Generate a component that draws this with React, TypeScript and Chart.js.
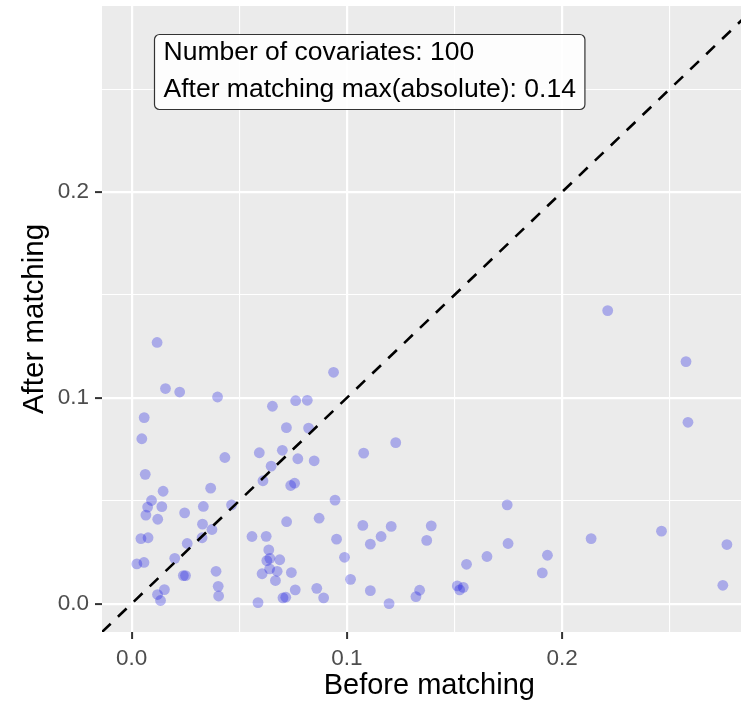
import React, { useEffect, useRef } from "react";
import { Chart, registerables } from "chart.js";

Chart.register(...registerables);

// ---- data ----
const beforeMatching: number[] = [
  0.0118, 0.0157, 0.0223, 0.0399, 0.0938, 0.0654, 0.0762, 0.0816, 0.0058, 0.0047,
  0.0719, 0.0822, 0.0433, 0.0593, 0.0700, 0.0772, 0.0848, 0.0648, 0.0063, 0.0610,
  0.0739, 0.0757, 0.0367, 0.0146, 0.0092, 0.0074, 0.0140, 0.0333, 0.0464, 0.0945,
  0.0066, 0.0246, 0.0121, 0.0871, 0.0720, 0.0329, 0.0373, 0.0043, 0.0076, 0.0327,
  0.0559, 0.0625, 0.0952, 0.0258, 0.0637, 0.0024, 0.0057, 0.0200, 0.0628, 0.0642,
  0.0688, 0.0989, 0.0240, 0.0250, 0.0392, 0.0606, 0.0641, 0.0676, 0.0742, 0.0668,
  0.1017, 0.0152, 0.0120, 0.0134, 0.0402, 0.0404, 0.0587, 0.0703, 0.0716, 0.0760,
  0.0860, 0.0892, 0.1227, 0.1078, 0.1745, 0.1074, 0.1206, 0.1392, 0.1159, 0.1109,
  0.1371, 0.1749, 0.1651, 0.1556, 0.1932, 0.1908, 0.1109, 0.1196, 0.1338, 0.1321,
  0.1513, 0.1541, 0.1524, 0.2212, 0.2576, 0.2585, 0.2462, 0.2135, 0.2766, 0.2747,
];
const afterMatching: number[] = [
  0.1269, 0.1045, 0.1028, 0.1004, 0.1124, 0.0959, 0.0986, 0.0988, 0.0904, 0.0801,
  0.0855, 0.0853, 0.0710, 0.0733, 0.0745, 0.0704, 0.0694, 0.0668, 0.0628, 0.0597,
  0.0574, 0.0585, 0.0561, 0.0546, 0.0501, 0.0469, 0.0471, 0.0472, 0.0480, 0.0503,
  0.0430, 0.0441, 0.0410, 0.0415, 0.0398, 0.0386, 0.0360, 0.0316, 0.0320, 0.0320,
  0.0326, 0.0327, 0.0313, 0.0292, 0.0261, 0.0193, 0.0200, 0.0220, 0.0209, 0.0220,
  0.0213, 0.0225, 0.0136, 0.0136, 0.0157, 0.0145, 0.0169, 0.0157, 0.0151, 0.0112,
  0.0118, 0.0068, 0.0044, 0.0015, 0.0084, 0.0037, 0.0005, 0.0028, 0.0031, 0.0067,
  0.0074, 0.0028, 0.0782, 0.0731, 0.0480, 0.0380, 0.0375, 0.0378, 0.0326, 0.0289,
  0.0307, 0.0292, 0.0229, 0.0191, 0.0235, 0.0149, 0.0063, 0.0000, 0.0065, 0.0034,
  0.0086, 0.0079, 0.0067, 0.1424, 0.1176, 0.0881, 0.0352, 0.0316, 0.0287, 0.0089,
];

const axisMin = -0.0138;
const axisMax = 0.2904;
const gridValues: number[] = [0, 0.05, 0.1, 0.15, 0.2, 0.25];
const majorValues: number[] = [0, 0.1, 0.2];
const majorLabels: string[] = ["0.0", "0.1", "0.2"];
const xTitle = "Before matching";
const yTitle = "After matching";
const annotationLines: string[] = [
  "Number of covariates: 100",
  "After matching max(absolute): 0.14",
];
const annotationX = 0.0103;
const annotationY = 0.2766;

const FONT = '"Liberation Sans", Arial, Helvetica, sans-serif';

const panelPlugin = {
  id: "panelPlugin",
  beforeDraw(chart: any) {
    const { ctx, chartArea: a } = chart;
    ctx.save();
    ctx.fillStyle = "#EBEBEB";
    ctx.fillRect(a.left, a.top, a.right - a.left, a.bottom - a.top);
    ctx.restore();
  },
  afterDatasetsDraw(chart: any) {
    const { ctx, chartArea: a } = chart;
    const xs = chart.scales.x;
    const ys = chart.scales.y;
    // identity dashed line
    ctx.save();
    ctx.beginPath();
    ctx.rect(a.left, a.top, a.right - a.left, a.bottom - a.top);
    ctx.clip();
    ctx.strokeStyle = "#000000";
    ctx.lineWidth = 2.6;
    ctx.setLineDash([12, 10]);
    ctx.beginPath();
    ctx.moveTo(xs.getPixelForValue(axisMin), ys.getPixelForValue(axisMin));
    ctx.lineTo(xs.getPixelForValue(axisMax), ys.getPixelForValue(axisMax));
    ctx.stroke();
    ctx.restore();

    // annotation label
    ctx.save();
    ctx.font = `26.5px ${FONT}`;
    const w = Math.max(...annotationLines.map((l) => ctx.measureText(l).width));
    const padX = 9;
    const left = Math.round(xs.getPixelForValue(annotationX)) + 0.5;
    const top = Math.round(ys.getPixelForValue(annotationY)) + 0.5;
    const width = w + padX * 2;
    const height = 75;
    ctx.beginPath();
    ctx.roundRect(left, top, width, height, 5);
    ctx.fillStyle = "rgba(255,255,255,0.88)";
    ctx.fill();
    ctx.strokeStyle = "#333333";
    ctx.lineWidth = 1.2;
    ctx.stroke();
    ctx.fillStyle = "#000000";
    ctx.textBaseline = "alphabetic";
    ctx.textAlign = "left";
    ctx.fillText(annotationLines[0], left + padX, top + 25);
    ctx.fillText(annotationLines[1], left + padX, top + 62);
    ctx.restore();
  },
};

function axisConfig(isX: boolean) {
  return {
    type: "linear" as const,
    position: isX ? "bottom" : "left",
    min: axisMin,
    max: axisMax,
    afterBuildTicks: (s: any) => {
      s.ticks = gridValues.map((v) => ({ value: v }));
    },
    afterFit: (s: any) => {
      if (isX) s.height = 69;
      else s.width = 102;
      s.paddingTop = 0;
      s.paddingBottom = 0;
      s.paddingLeft = 0;
      s.paddingRight = 0;
    },
    border: { display: false },
    grid: {
      color: "#FFFFFF",
      lineWidth: (c: any) => (c.tick && majorValues.includes(c.tick.value) ? 2.2 : 1.1),
      drawTicks: true,
      tickLength: 7,
      tickWidth: 2,
      tickColor: (c: any) =>
        c.tick && majorValues.includes(c.tick.value) ? "#333333" : "rgba(0,0,0,0)",
    },
    ticks: {
      autoSkip: false,
      maxRotation: 0,
      minRotation: 0,
      color: "#4D4D4D",
      font: { family: FONT, size: 22.5 },
      padding: 6,
      callback: (v: any) => {
        const i = majorValues.indexOf(v);
        return i >= 0 ? majorLabels[i] : "";
      },
    },
    title: {
      display: true,
      text: isX ? xTitle : yTitle,
      color: "#000000",
      font: isX
        ? { family: FONT, size: 29, lineHeight: 1.05 }
        : { family: FONT, size: 29.5 },
      padding: isX ? { top: 0, bottom: 0 } : { top: 17, bottom: 0 },
    },
  };
}

export default function App() {
  const ref = useRef<HTMLCanvasElement | null>(null);
  useEffect(() => {
    document.body.style.margin = "0";
    const canvas = ref.current;
    if (!canvas) return;
    const chart = new Chart(canvas, {
      type: "scatter",
      data: {
        datasets: [
          {
            data: beforeMatching.map((x, i) => ({ x, y: afterMatching[i] })),
            pointRadius: 5.4,
            pointHoverRadius: 5.4,
            pointBorderWidth: 0,
            pointBackgroundColor: "rgba(20,20,225,0.3)",
            borderColor: "rgba(0,0,0,0)",
          },
        ],
      },
      options: {
        responsive: false,
        maintainAspectRatio: false,
        animation: false,
        devicePixelRatio: 1,
        events: [],
        layout: { padding: { left: 0, right: 0, top: 6, bottom: 0 } },
        plugins: { legend: { display: false }, tooltip: { enabled: false } },
        scales: { x: axisConfig(true) as any, y: axisConfig(false) as any },
      },
      plugins: [panelPlugin],
    });
    return () => chart.destroy();
  }, []);
  return (
    <div
      style={{
        position: "absolute",
        left: 0,
        top: 0,
        width: 741,
        height: 701,
        overflow: "hidden",
        background: "#FFFFFF",
      }}
    >
      <canvas ref={ref} width={762} height={701} style={{ width: 762, height: 701, display: "block" }} />
    </div>
  );
}
